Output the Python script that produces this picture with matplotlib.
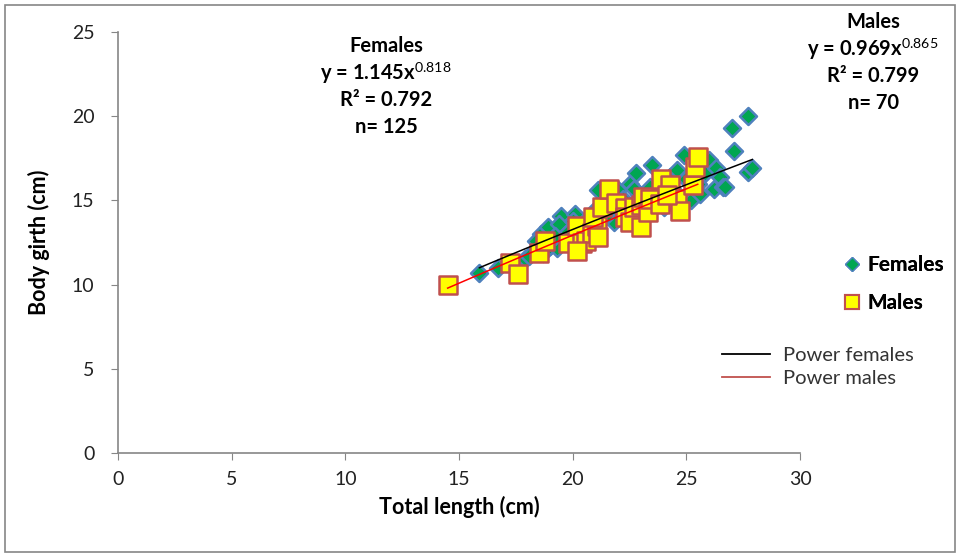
import numpy as np
import matplotlib
matplotlib.use("Agg")
import matplotlib.pyplot as plt
from matplotlib.lines import Line2D
from matplotlib.patches import Rectangle

plt.rcParams["font.family"] = ["Lato", "DejaVu Sans"]
plt.rcParams["mathtext.fontset"] = "custom"
plt.rcParams["mathtext.rm"] = "Lato"

# Females: total length (cm), body girth (cm)
fem_x = [15.9, 16.7, 17.3, 17.9, 18.1, 18.6, 18.7, 18.9, 19.0, 19.3,
         19.5, 19.4, 19.8, 20.1, 20.0, 20.3, 20.6, 20.9, 21.1, 21.2,
         21.5, 21.8, 22.0, 22.2, 22.5, 22.4, 22.8, 22.9, 23.2, 23.5,
         23.4, 23.7, 24.0, 24.0, 24.3, 24.5, 24.9, 24.8, 25.2, 25.5,
         25.6, 25.8, 26.0, 26.2, 26.3, 26.5, 26.6, 26.7, 27.0, 27.1,
         27.7, 27.7, 27.9, 23.1, 21.0, 19.2, 20.5, 22.0, 23.8, 24.6,
         25.0, 18.4, 21.4, 22.7, 24.2, 25.3]
fem_y = [10.7, 11.0, 11.2, 11.5, 11.7, 13.0, 11.9, 13.4, 12.3, 12.2,
         14.1, 13.6, 13.1, 14.2, 13.8, 12.8, 13.5, 14.3, 15.6, 14.0,
         14.8, 13.7, 15.6, 15.1, 16.0, 14.2, 16.6, 15.4, 14.6, 17.1,
         15.8, 14.9, 15.8, 14.6, 16.4, 15.5, 17.7, 15.0, 15.0, 16.0,
         15.4, 16.6, 17.4, 15.7, 16.9, 16.4, 15.8, 15.8, 19.3, 17.95,
         20.0, 16.7, 16.9, 15.2, 12.9, 12.9, 13.0, 14.5, 15.2, 16.8,
         16.3, 12.6, 14.0, 15.7, 15.3, 16.1]

# Males
mal_x = [14.5, 17.25, 17.6, 18.5, 18.8, 19.8, 20.2, 20.4, 20.6, 20.85,
         21.05, 20.9, 21.3, 21.6, 21.9, 22.3, 22.3, 22.5, 22.7, 23.0,
         23.0, 23.1, 23.3, 23.4, 23.9, 24.3, 24.6, 24.7, 25.3, 25.4,
         25.5, 21.1, 23.85, 24.15, 20.2]
mal_y = [9.95, 11.3, 10.65, 11.9, 12.6, 12.5, 13.5, 12.5, 12.6, 13.05,
         13.5, 14.0, 14.6, 15.7, 14.85, 14.55, 14.0, 13.7, 14.6, 14.7,
         13.4, 15.2, 14.3, 15.1, 16.3, 15.9, 15.1, 14.4, 15.9, 17.0,
         17.6, 12.8, 14.8, 15.3, 12.0]

# power fits y = a * x^b
fem_a, fem_b = 1.145, 0.818
mal_a, mal_b = 0.969, 0.865


def main():
    fig = plt.figure(figsize=(9.61, 5.57), dpi=100)
    ax = fig.add_axes([0.1228, 0.1867, 0.7097, 0.7558])

    ax.scatter(fem_x, fem_y, marker="D", s=75, facecolor="#00A651",
               edgecolor="#4F81BD", linewidth=1.8, zorder=2)
    ax.scatter(mal_x, mal_y, marker="s", s=150, facecolor="#FFFF00",
               edgecolor="#C0504D", linewidth=1.8, zorder=3)

    xf = np.linspace(min(fem_x), max(fem_x), 50)
    ax.plot(xf, fem_a * xf ** fem_b, color="black", lw=1.1, zorder=4)
    xm = np.linspace(min(mal_x), max(mal_x), 50)
    ax.plot(xm, mal_a * xm ** mal_b, color="red", lw=1.1, zorder=4)

    ax.set_xlim(0, 30)
    ax.set_ylim(0, 25)
    ax.set_xticks(range(0, 31, 5))
    ax.set_yticks(range(0, 26, 5))
    for s in ["top", "right"]:
        ax.spines[s].set_visible(False)
    for s in ["left", "bottom"]:
        ax.spines[s].set_color("#868686")
        ax.spines[s].set_linewidth(1.2)
    ax.tick_params(direction="out", length=5, color="#868686",
                   labelsize=14, labelcolor="#222222")
    ax.tick_params(axis="y", pad=12)
    ax.tick_params(axis="x", pad=8)

    ax.set_xlabel("Total length (cm)", fontsize=15.5, fontweight="bold", labelpad=6)
    ax.set_ylabel("Body girth (cm)", fontsize=15.5, fontweight="bold", labelpad=16)

    # equations
    fem_txt = ["Females", r"y = 1.145x$^{0.818}$", "R² = 0.792", "n= 125"]
    mal_txt = ["Males", r"y = 0.969x$^{0.865}$", "R² = 0.799", "n= 70"]
    for i, t in enumerate(fem_txt):
        fig.text(386 / 961, 1 - (46 + 27 * i) / 557, t, ha="center", va="center",
                 fontsize=14.5, fontweight="bold")
    for i, t in enumerate(mal_txt):
        fig.text(873 / 961, 1 - (22 + 27 * i) / 557, t, ha="center", va="center",
                 fontsize=14.5, fontweight="bold")

    # legends
    h1 = [Line2D([], [], ls="none", marker="D", ms=7, mfc="#00A651", mec="#4F81BD"),
          Line2D([], [], ls="none", marker="s", ms=10, mfc="#FFFF00", mec="#C0504D", mew=1.5)]
    leg1 = fig.legend(h1, ["Females", "Males"], loc="center left",
                      bbox_to_anchor=(823 / 961, 1 - 284 / 557), frameon=False,
                      prop={"size": 15, "weight": "bold"}, labelspacing=0.85,
                      handlelength=1.0, handletextpad=0.25)
    fig.add_artist(leg1)
    h2 = [Line2D([], [], color="black", lw=1.3), Line2D([], [], color="#C0504D", lw=1.3)]
    fig.legend(h2, ["Power females", "Power males"], loc="center left",
               bbox_to_anchor=(704 / 961, 1 - 367 / 557), frameon=False,
               prop={"size": 14.5}, labelspacing=0.3, handlelength=2.4,
               handletextpad=0.6, labelcolor="#333333")

    fig.patches.append(Rectangle((5 / 961, 5 / 557), 950 / 961, 547 / 557,
                                 transform=fig.transFigure, fill=False,
                                 edgecolor="#868686", lw=1.2))

    plt.savefig("out.png", dpi=100)
    plt.close()


if __name__ == "__main__":
    main()
